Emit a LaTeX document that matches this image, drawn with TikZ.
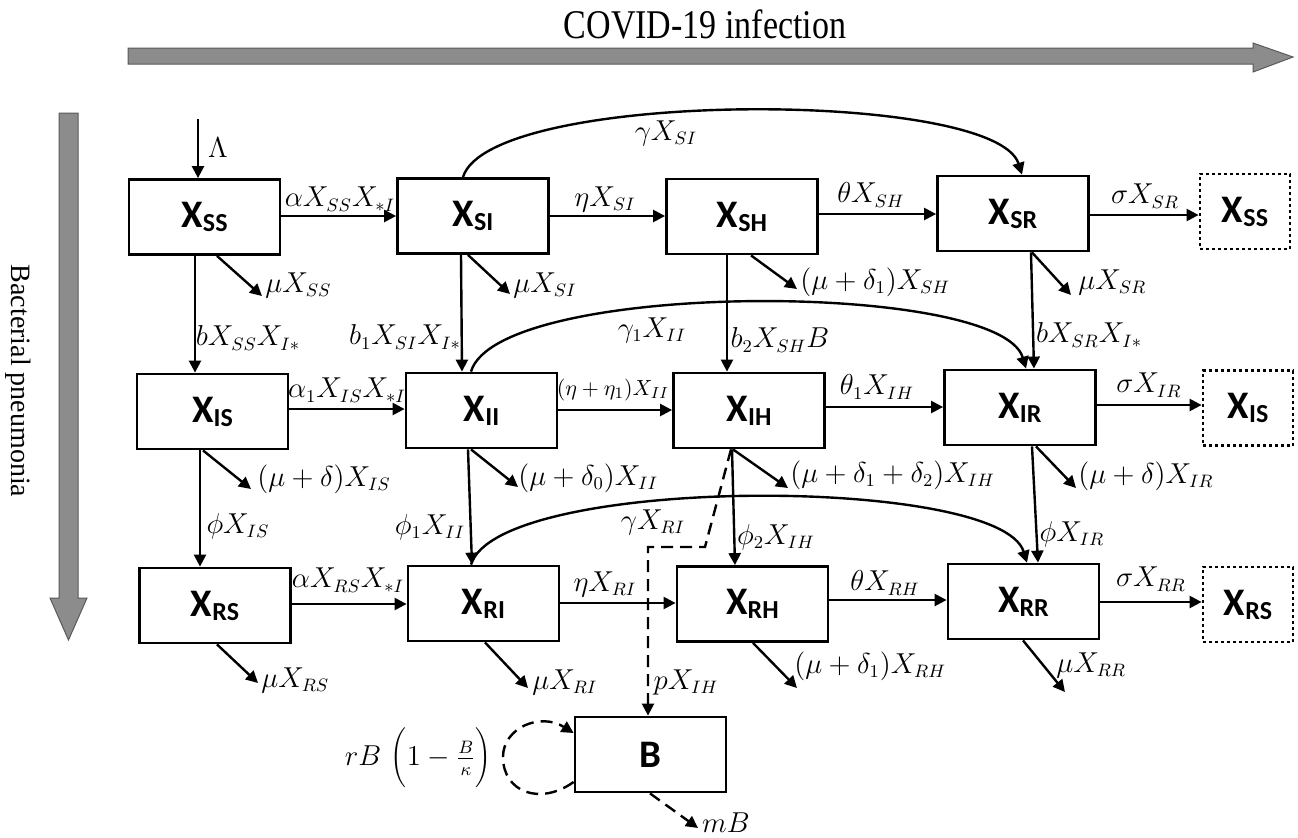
\documentclass[tikz,border=0pt]{standalone}
\usepackage{fontspec}
\setmainfont{Liberation Serif}
\newfontfamily\boxfont{Carlito}
\usetikzlibrary{arrows.meta}
\newcommand\bx[1]{X\raisebox{-2pt}{\fontsize{13}{14}\selectfont #1}}
\begin{document}
\begin{tikzpicture}[x=0.5pt,y=-0.5pt,
  box/.style={draw, line width=1.4pt, minimum width=75.5pt, minimum height=37.5pt, inner sep=0pt,
    font=\boxfont\bfseries\fontsize{19.5}{20}\selectfont},
  dbox/.style={box, minimum width=45pt, dash pattern=on 1.5pt off 1.5pt},
  arr/.style={line width=1.2pt, -{Triangle[length=6pt,width=6pt]}},
  darr/.style={arr, dash pattern=on 6pt off 3.5pt},
  lab/.style={font=\fontsize{13.5}{16}\selectfont, inner sep=0pt},
  llab/.style={lab, anchor=west},
  slab/.style={font=\fontsize{11}{13}\selectfont, inner sep=0pt},
  bigarr/.style={fill=black!45, draw=black!65, line width=0.5pt},
  ttl/.style={font=\fontsize{14}{16}\selectfont, inner sep=0pt}]
\useasboundingbox (0,0) rectangle (1298,837);

% big axis arrows
\draw[bigarr] (128,48) -- (1253,48) -- (1253,43) -- (1293,57) -- (1253,72) -- (1253,64) -- (128,64) -- cycle;
\node[ttl, font=\fontsize{17}{19}\selectfont, yscale=1.2] (covid) at (705,24) {COVID-19 infection};
\draw[bigarr] (59,113) -- (78,113) -- (78,598) -- (87,598) -- (68.5,640) -- (50,598) -- (59,598) -- cycle;
\node[ttl, rotate=-90] (bact) at (18,381) {Bacterial pneumonia};

% boxes
\node[box] (XSS) at (204.5,217) {\bx{SS}};
\node[box] (XSI) at (473,216) {\bx{SI}};
\node[box] (XSH) at (742,216.5) {\bx{SH}};
\node[box] (XSR) at (1013,213.5) {\bx{SR}};
\node[dbox] (XSSd) at (1245,211.5) {\bx{SS}};
\node[box] (XIS) at (212.5,411.5) {\bx{IS}};
\node[box] (XII) at (481.5,410.5) {\bx{II}};
\node[box] (XIH) at (749,410.5) {\bx{IH}};
\node[box] (XIR) at (1020,407.5) {\bx{IR}};
\node[dbox] (XISd) at (1248,408) {\bx{IS}};
\node[box] (XRS) at (215,605.5) {\bx{RS}};
\node[box] (XRI) at (483.5,603.5) {\bx{RI}};
\node[box] (XRH) at (752.5,604) {\bx{RH}};
\node[box] (XRR) at (1023.5,601.5) {\bx{RR}};
\node[dbox] (XRSd) at (1248,604.5) {\bx{RS}};
\node[box] (B) at (650.5,754.5) {B};

% free end points
\coordinate (lamIn) at (198,119);
\coordinate (eSS) at (262,296);
\coordinate (eSI) at (510,294);
\coordinate (eSH) at (797,289);
\coordinate (eSR) at (1071,295);
\coordinate (eIS) at (251,489);
\coordinate (eII) at (518,487);
\coordinate (eIH) at (788,488);
\coordinate (eIR) at (1076,488);
\coordinate (eRS) at (258,683);
\coordinate (eRI) at (528,688);
\coordinate (eRH) at (797,688);
\coordinate (eRR) at (1065,692);
\coordinate (eB) at (698,828);
\coordinate (d1) at (705,547);
\coordinate (d2) at (648,547);

% inflow
\draw[arr] (lamIn) -- (XSS.north -| 198,0);

% horizontal arrows
\draw[arr] (XSS.east |- 0,216) -- (XSI.west |- 0,216);
\draw[arr] (XSI.east |- 0,216) -- (XSH.west |- 0,216);
\draw[arr] (XSH.east |- 0,214) -- (XSR.west |- 0,214);
\draw[arr] (XSR.east |- 0,215) -- (XSSd.west |- 0,215);
\draw[arr] (XIS.east |- 0,409) -- (XII.west |- 0,409);
\draw[arr] (XII.east |- 0,410) -- (XIH.west |- 0,410);
\draw[arr] (XIH.east |- 0,407) -- (XIR.west |- 0,407);
\draw[arr] (XIR.east |- 0,405) -- (XISd.west |- 0,405);
\draw[arr] (XRS.east |- 0,604) -- (XRI.west |- 0,604);
\draw[arr] (XRI.east |- 0,603) -- (XRH.west |- 0,603);
\draw[arr] (XRH.east |- 0,600) -- (XRR.west |- 0,600);
\draw[arr] (XRR.east |- 0,602) -- (XRSd.west |- 0,602);

% vertical arrows
\draw[arr] (XSS.south -| 195,0) -- (XIS.north -| 195,0);
\draw[arr] (XSI.south -| 461,0) -- (XII.north -| 462,0);
\draw[arr] (XSH.south -| 727,0) -- (XIH.north -| 727,0);
\draw[arr] (XSR.south -| 1031,0) -- (XIR.north -| 1034,0);
\draw[arr] (XIS.south -| 200,0) -- (XRS.north -| 200,0);
\draw[arr] (XII.south -| 468,0) -- (XRI.north -| 472,0);
\draw[arr] (XIH.south -| 732,0) -- (XRH.north -| 735,0);
\draw[arr] (XIR.south -| 1032,0) -- (XRR.north -| 1038,0);

% loss arrows
\draw[arr] (XSS.south -| 217,0) -- (eSS);
\draw[arr] (XSI.south -| 468,0) -- (eSI);
\draw[arr] (XSH.south -| 751,0) -- (eSH);
\draw[arr] (XSR.south -| 1032,0) -- (eSR);
\draw[arr] (XIS.south -| 203,0) -- (eIS);
\draw[arr] (XII.south -| 471,0) -- (eII);
\draw[arr] (XIH.south -| 733,0) -- (eIH);
\draw[arr] (XIR.south -| 1036,0) -- (eIR);
\draw[arr] (XRS.south -| 217,0) -- (eRS);
\draw[arr] (XRI.south -| 485,0) -- (eRI);
\draw[arr] (XRH.south -| 753,0) -- (eRH);
\draw[arr] (XRR.south -| 1023,0) -- (eRR);

% curved arrows
\draw[arr] (XSI.north -| 463,0) .. controls (490,89) and (995,89) .. (XSR.north -| 1022,0);
\draw[arr] (XII.north -| 471,0) .. controls (498,280) and (1000,280) .. (XIR.north -| 1026,0);
\draw[arr] (XRI.north -| 471,0) .. controls (498,475) and (1000,475) .. (XRR.north -| 1027,0);

% bacteria
\draw[darr] (XIH.south -| 731,0) -- (d1) -- (d2) -- (B.north -| 648,0);
\draw[darr] (B.west |- 0,782) .. controls (540,806) and (503,792) .. (503,757)
   .. controls (503,728) and (540,712) .. (B.west |- 0,733);
\draw[darr] (B.south -| 650,0) -- (eB);

% labels
\node[lab] (tLam) at (218,148) {$\Lambda$};
\node[lab] (t1) at (340,199) {$\alpha X_{SS}X_{*I}$};
\node[llab] (t2) at (265,285) {$\mu X_{SS}$};
\node[llab] (t3) at (513,285) {$\mu X_{SI}$};
\node[lab] (t4) at (248,338) {$bX_{SS}X_{I*}$};
\node[lab] (t5) at (405,337) {$b_1X_{SI}X_{I*}$};
\node[lab] (t6) at (666,133) {$\gamma X_{SI}$};
\node[lab] (t7) at (605,199) {$\eta X_{SI}$};
\node[lab] (t8) at (871,195) {$\theta X_{SH}$};
\node[llab] (t9) at (800,282) {$(\mu+\delta_1)X_{SH}$};
\node[lab] (t10) at (780,340) {$b_2X_{SH}B$};
\node[lab] (t11) at (1145,196) {$\sigma X_{SR}$};
\node[llab] (t12) at (1078,282) {$\mu X_{SR}$};
\node[lab] (t13) at (1089,335) {$bX_{SR}X_{I*}$};
\node[lab] (t14) at (652,330) {$\gamma_1X_{II}$};
\node[lab] (t15) at (347,390) {$\alpha_1X_{IS}X_{*I}$};
\node[slab] (t16) at (613,390) {$(\eta+\eta_1)X_{II}$};
\node[lab] (t17) at (877,387) {$\theta_1X_{IH}$};
\node[lab] (t18) at (1149,385) {$\sigma X_{IR}$};
\node[llab] (t19) at (257,479) {$(\mu+\delta)X_{IS}$};
\node[llab] (t20) at (518,478) {$(\mu+\delta_0)X_{II}$};
\node[llab] (t21) at (790,475) {$(\mu+\delta_1+\delta_2)X_{IH}$};
\node[llab] (t22) at (1078,476) {$(\mu+\delta)X_{IR}$};
\node[lab] (t23) at (238,526) {$\phi X_{IS}$};
\node[lab] (t24) at (430,527) {$\phi_1X_{II}$};
\node[lab] (t25) at (776,537) {$\phi_2X_{IH}$};
\node[lab] (t26) at (1072,534) {$\phi X_{IR}$};
\node[lab] (t27) at (653,522) {$\gamma X_{RI}$};
\node[lab] (t28) at (348,580) {$\alpha X_{RS}X_{*I}$};
\node[lab] (t29) at (605,584) {$\eta X_{RI}$};
\node[lab] (t30) at (885,583) {$\theta X_{RH}$};
\node[lab] (t31) at (1151,579) {$\sigma X_{RR}$};
\node[llab] (t32) at (261,680) {$\mu X_{RS}$};
\node[llab] (t33) at (532,682) {$\mu X_{RI}$};
\node[llab] (t34) at (794,666) {$(\mu+\delta_1)X_{RH}$};
\node[llab] (t35) at (1056,665) {$\mu X_{RR}$};
\node[lab] (t36) at (686,682) {$pX_{IH}$};
\node[lab, anchor=east] (t37) at (492,757) {$rB\,\left(\vphantom{\displaystyle\frac{B}{\kappa}}1-\frac{B}{\kappa}\right)$};
\node[lab] (t38) at (726,823) {$mB$};
\end{tikzpicture}
\end{document}
